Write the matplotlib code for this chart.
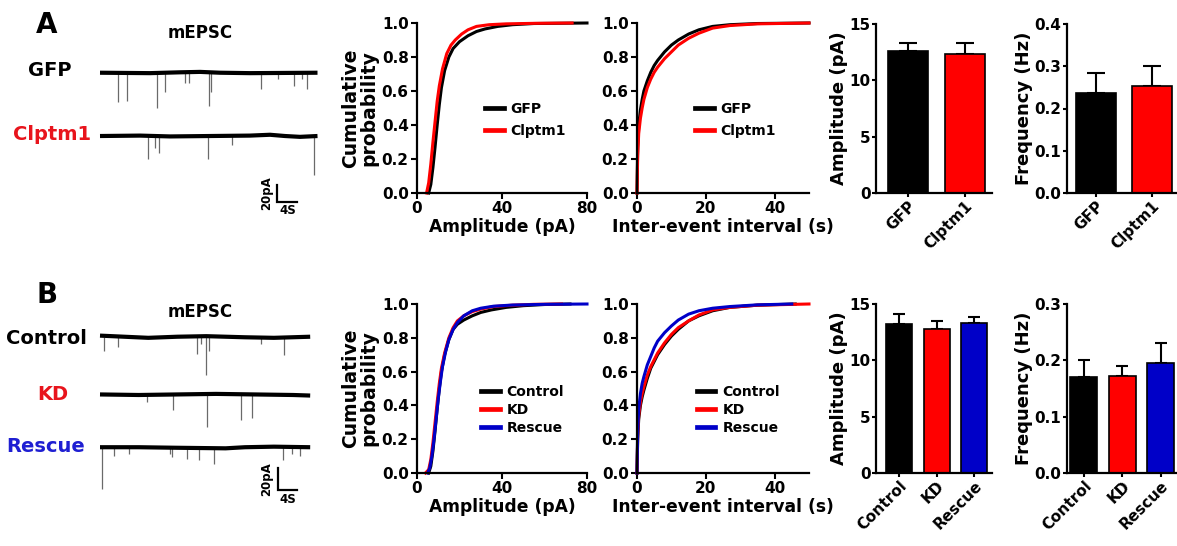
import matplotlib
matplotlib.use('Agg')
import matplotlib.pyplot as plt
from matplotlib.ticker import FormatStrFormatter

W, H = 1177, 546
plt.rcParams['font.family'] = ['DejaVu Sans']
plt.rcParams['font.weight'] = 'bold'
plt.rcParams['axes.labelweight'] = 'bold'
plt.rcParams['axes.linewidth'] = 1.5

BLACK, RED, BLUE = '#000000', '#ff0000', '#0000c8'
TXT_RED, TXT_BLUE = '#e8141c', '#1f1fd2'

# ---------------- data: example traces (time s, depth pA) ----------------
gfp_ev_t = [3.5, 5.5, 11.5, 13.0, 17.1, 17.8, 21.8, 22.3, 32.3, 35.6, 38.9, 40.5, 41.5]
gfp_ev_d = [35, 34, 42, 23, 12, 12, 40, 23, 19, 8, 16, 8, 20]
gfp_base_t = [0, 10, 16, 20, 24, 30, 43.5]
gfp_base_y = [0, -0.5, 0.5, 1, 0, -0.5, 0]
clp_ev_t = [9.7, 11.0, 11.8, 21.7, 26.5, 42.8]
clp_ev_d = [28, 14, 20, 28, 11, 47]
clp_base_t = [0, 8, 14, 22, 30, 34, 37, 40, 43.5]
clp_base_y = [0, 0.5, -0.5, 0, 0.5, 1.5, 0, -1, 0]

ctl_ev_t = [0.8, 3.7, 20.0, 21.0, 21.9, 22.6, 33.3, 38.1]
ctl_ev_d = [13, 9, 16, 7, 35, 13, 7, 17]
ctl_base_t = [0, 5, 10, 16, 22, 30, 36, 43.5]
ctl_base_y = [1, 0, -1, 0, 0.5, -0.5, -1, 0]
kd_ev_t = [9.8, 15.2, 22.2, 29.2, 31.5]
kd_ev_d = [6, 14, 29, 23, 21]
kd_base_t = [0, 8, 16, 24, 32, 40, 43.5]
kd_base_y = [0.5, 0, 0.5, 1, 0.5, 0, -0.5]
res_ev_t = [0.5, 2.8, 6.1, 14.5, 15.0, 18.1, 20.4, 23.5, 37.8, 39.7, 41.3]
res_ev_d = [38, 8, 6, 6, 9, 11, 12, 15, 11.5, 6, 8]
res_base_t = [0, 8, 16, 26, 30, 36, 43.5]
res_base_y = [0, 0, -0.5, -1, 0, 0.5, 0]

# ---------------- data: cumulative distributions ----------------
a_amp_gfp_x = [5.5, 6.5, 7.5, 8.5, 9.5, 10.5, 11.5, 13, 15, 17, 20, 24, 28, 32, 38, 45, 55, 80]
a_amp_gfp_p = [0, 0.05, 0.15, 0.27, 0.40, 0.52, 0.62, 0.72, 0.80, 0.85, 0.89, 0.925, 0.95, 0.965, 0.98, 0.99, 0.997, 1.0]
a_amp_clp_x = [4.5, 5.5, 6.5, 7.5, 8.5, 9.5, 10.5, 12, 14, 16, 18, 21, 24, 28, 34, 42, 55, 73]
a_amp_clp_p = [0, 0.06, 0.17, 0.30, 0.42, 0.54, 0.63, 0.73, 0.82, 0.87, 0.90, 0.935, 0.96, 0.98, 0.99, 0.995, 0.998, 1.0]

int_x = [0, 0.2, 0.5, 1, 1.5, 2, 3, 4, 5, 6, 8, 10, 12, 15, 18, 22, 27, 35]
a_int_gfp_x = int_x + [50]
a_int_gfp_p = [0, 0.27, 0.40, 0.49, 0.55, 0.60, 0.66, 0.71, 0.75, 0.78, 0.83, 0.87, 0.90, 0.935, 0.96, 0.98, 0.99, 0.997, 1.0]
a_int_clp_x = int_x + [50]
a_int_clp_p = [0, 0.22, 0.35, 0.44, 0.50, 0.55, 0.62, 0.67, 0.71, 0.74, 0.79, 0.83, 0.87, 0.91, 0.94, 0.97, 0.985, 0.995, 1.0]

b_amp_ctl_x = [5.5, 6.5, 7.5, 8.5, 9.5, 10.5, 11.5, 13, 15, 17, 19, 22, 26, 30, 35, 42, 50, 60, 72]
b_amp_ctl_p = [0, 0.04, 0.13, 0.25, 0.38, 0.50, 0.60, 0.70, 0.79, 0.85, 0.88, 0.905, 0.93, 0.95, 0.965, 0.98, 0.99, 0.997, 1.0]
b_amp_kd_x = [4, 5.5, 6.5, 7.5, 8.5, 9.5, 10.5, 11.5, 13, 15, 17, 19, 22, 26, 30, 36, 45, 55, 68]
b_amp_kd_p = [0, 0.02, 0.08, 0.18, 0.30, 0.42, 0.53, 0.62, 0.71, 0.80, 0.86, 0.90, 0.93, 0.955, 0.97, 0.985, 0.993, 0.998, 1.0]
b_amp_res_x = [5, 6, 7, 8, 9, 10, 11, 12, 13.5, 15, 17, 19, 22, 26, 30, 36, 45, 60, 80]
b_amp_res_p = [0, 0.03, 0.10, 0.20, 0.32, 0.44, 0.54, 0.63, 0.72, 0.79, 0.85, 0.89, 0.93, 0.96, 0.975, 0.987, 0.994, 0.998, 1.0]

b_int_ctl_x = int_x + [46]
b_int_ctl_p = [0, 0.20, 0.32, 0.40, 0.45, 0.49, 0.56, 0.62, 0.66, 0.70, 0.76, 0.81, 0.85, 0.90, 0.93, 0.96, 0.98, 0.993, 1.0]
b_int_kd_x = int_x + [50]
b_int_kd_p = [0, 0.22, 0.34, 0.42, 0.47, 0.51, 0.58, 0.63, 0.67, 0.71, 0.77, 0.82, 0.86, 0.90, 0.935, 0.965, 0.98, 0.993, 1.0]
b_int_res_x = int_x + [45]
b_int_res_p = [0, 0.25, 0.38, 0.47, 0.53, 0.57, 0.64, 0.69, 0.74, 0.78, 0.83, 0.87, 0.905, 0.94, 0.96, 0.975, 0.985, 0.995, 1.0]

# ---------------- data: bar charts ----------------
a_groups = ['GFP', 'Clptm1']
a_amp_mean = [12.6, 12.35]
a_amp_sem = [0.75, 1.0]
a_freq_mean = [0.236, 0.254]
a_freq_sem = [0.047, 0.047]

b_groups = ['Control', 'KD', 'Rescue']
b_amp_mean = [13.2, 12.76, 13.29]
b_amp_sem = [0.9, 0.77, 0.59]
b_freq_mean = [0.170, 0.173, 0.195]
b_freq_sem = [0.030, 0.017, 0.036]

# ---------------- helpers ----------------
fig = plt.figure(figsize=(W / 100, H / 100), dpi=100)


def add_ax(l, t, r, b):
    return fig.add_axes([l / W, 1 - b / H, (r - l) / W, (b - t) / H])


def ftext(px, py, s, **kw):
    fig.text(px / W, 1 - py / H, s, **kw)


def style(ax, length=4, pad=2):
    for s in ['top', 'right']:
        ax.spines[s].set_visible(False)
    for s in ['left', 'bottom']:
        ax.spines[s].set_linewidth(1.6)
    ax.tick_params(direction='out', length=length, width=1.5, labelsize=11, pad=pad)


def trace(ax, bt, by, off, ev_t, ev_d):
    ax.plot(bt, [v + off for v in by], color='k', lw=3.0, solid_capstyle='butt', zorder=3)
    ax.vlines(ev_t, [off] * len(ev_t), [off - d for d in ev_d], color='#6a6a6a', lw=0.9, zorder=2)


# ---------------- traces A ----------------
ta = add_ax(90, 40, 330, 215)
ta.set_xlim(-2, 46)
ta.set_ylim(-170.4, 39.2)
ta.axis('off')
trace(ta, gfp_base_t, gfp_base_y, 0, gfp_ev_t, gfp_ev_d)
trace(ta, clp_base_t, clp_base_y, -75.8, clp_ev_t, clp_ev_d)
ta.plot([35.5, 35.5, 39.5], [-134.5, -154.5, -154.5], color='k', lw=1.6, solid_joinstyle='miter')
ta.text(34.6, -144.5, '20pA', rotation=90, ha='right', va='center', fontsize=8.5)
ta.text(37.6, -157.5, '4S', ha='center', va='top', fontsize=8.5)

# ---------------- traces B ----------------
tb = add_ax(90, 300, 330, 500)
tb.set_xlim(-2.07, 47.6)
tb.set_ylim(-148.5, 33.4)
tb.axis('off')
trace(tb, ctl_base_t, ctl_base_y, 0, ctl_ev_t, ctl_ev_d)
trace(tb, kd_base_t, kd_base_y, -53, kd_ev_t, kd_ev_d)
trace(tb, res_base_t, res_base_y, -100.5, res_ev_t, res_ev_d)
tb.plot([36.8, 36.8, 40.8], [-119.4, -139.4, -139.4], color='k', lw=1.6, solid_joinstyle='miter')
tb.text(35.9, -129.4, '20pA', rotation=90, ha='right', va='center', fontsize=8.5)
tb.text(38.8, -142.5, '4S', ha='center', va='top', fontsize=8.5)

# labels
ftext(47, 25, 'A', fontsize=20, ha='center', va='center')
ftext(47, 295, 'B', fontsize=20, ha='center', va='center')
ftext(200, 33, 'mEPSC', fontsize=12, ha='center', va='center')
ftext(200, 312, 'mEPSC', fontsize=12, ha='center', va='center')
ftext(50, 71, 'GFP', fontsize=14, ha='center', va='center', color='k')
ftext(52, 135, 'Clptm1', fontsize=14, ha='center', va='center', color=TXT_RED)
ftext(46, 339, 'Control', fontsize=14, ha='center', va='center', color='k')
ftext(53, 395, 'KD', fontsize=14, ha='center', va='center', color=TXT_RED)
ftext(46, 446, 'Rescue', fontsize=14, ha='center', va='center', color=TXT_BLUE)


# ---------------- cumulative plots ----------------
def cum_axes(l, t, r, b, xmax, xticks, xlabel, ylab):
    ax = add_ax(l, t, r, b)
    style(ax)
    ax.set_xlim(0, xmax)
    ax.set_ylim(0, 1.0)
    ax.set_xticks(xticks)
    ax.set_yticks([0, 0.2, 0.4, 0.6, 0.8, 1.0])
    ax.yaxis.set_major_formatter(FormatStrFormatter('%.1f'))
    ax.set_xlabel(xlabel, fontsize=12.3, labelpad=1)
    if ylab:
        ax.set_ylabel('Cumulative\nprobability', fontsize=13.5, linespacing=0.95)
        ax.yaxis.set_label_coords(-0.23, 0.5)
    return ax


def legend(ax, x, y, spacing):
    lg = ax.legend(loc='center left', bbox_to_anchor=(x, y), frameon=False, fontsize=10,
                   handlelength=1.35, handletextpad=0.5, labelspacing=spacing,
                   borderpad=0, borderaxespad=0)
    for h in lg.get_lines():
        h.set_linewidth(3.4)


lw = 2.2
ax = cum_axes(417, 23, 587, 193, 80, [0, 40, 80], 'Amplitude (pA)', True)
ax.plot(a_amp_gfp_x, a_amp_gfp_p, color=BLACK, lw=lw, label='GFP', clip_on=False)
ax.plot(a_amp_clp_x, a_amp_clp_p, color=RED, lw=lw, label='Clptm1', clip_on=False)
legend(ax, 0.40, 0.43, 0.55)

ax = cum_axes(637, 23, 809, 193, 50, [0, 20, 40], 'Inter-event interval (s)', False)
ax.plot(a_int_gfp_x, a_int_gfp_p, color=BLACK, lw=lw, label='GFP', clip_on=False)
ax.plot(a_int_clp_x, a_int_clp_p, color=RED, lw=lw, label='Clptm1', clip_on=False)
legend(ax, 0.337, 0.43, 0.55)

ax = cum_axes(417, 304, 587, 473, 80, [0, 40, 80], 'Amplitude (pA)', True)
ax.plot(b_amp_ctl_x, b_amp_ctl_p, color=BLACK, lw=lw, label='Control', clip_on=False)
ax.plot(b_amp_kd_x, b_amp_kd_p, color=RED, lw=lw, label='KD', clip_on=False)
ax.plot(b_amp_res_x, b_amp_res_p, color=BLUE, lw=lw, label='Rescue', clip_on=False)
legend(ax, 0.375, 0.373, 0.28)

ax = cum_axes(637, 304, 809, 473, 50, [0, 20, 40], 'Inter-event interval (s)', False)
ax.plot(b_int_ctl_x, b_int_ctl_p, color=BLACK, lw=lw, label='Control', clip_on=False)
ax.plot(b_int_kd_x, b_int_kd_p, color=RED, lw=lw, label='KD', clip_on=False)
ax.plot(b_int_res_x, b_int_res_p, color=BLUE, lw=lw, label='Rescue', clip_on=False)
legend(ax, 0.347, 0.373, 0.28)


# ---------------- bar charts ----------------
def bar_axes(l, t, r, b, xlim, groups, means, sems, colors, ymax, yticks, fmt, ylabel, labx, cap):
    ax = add_ax(l, t, r, b)
    style(ax, length=3, pad=1)
    x = list(range(len(groups)))
    ax.bar(x, means, width=0.7, color=colors, edgecolor='k', linewidth=1.2, zorder=2)
    ax.errorbar(x, means, yerr=[[0] * len(sems), sems], fmt='none', ecolor='k',
                elinewidth=1.5, capsize=cap, capthick=1.5, zorder=1)
    ax.set_xlim(*xlim)
    ax.set_ylim(0, ymax)
    ax.set_yticks(yticks)
    ax.yaxis.set_major_formatter(FormatStrFormatter(fmt))
    ax.set_xticks(x)
    ax.set_xticklabels(groups, rotation=45, ha='right', rotation_mode='anchor', fontsize=11)
    ax.set_ylabel(ylabel, fontsize=13)
    ax.yaxis.set_label_coords(labx, 0.5)
    return ax


bar_axes(876, 24, 992, 193, (-0.57, 1.48), a_groups, a_amp_mean, a_amp_sem, [BLACK, RED],
         15, [0, 5, 10, 15], '%d', 'Amplitude (pA)', -0.24, 6.5)
bar_axes(1067, 24, 1177, 193, (-0.51, 1.44), a_groups, a_freq_mean, a_freq_sem, [BLACK, RED],
         0.4, [0, 0.1, 0.2, 0.3, 0.4], '%.1f', 'Frequency (Hz)', -0.31, 6.5)
bar_axes(876, 304, 992, 473, (-0.62, 2.47), b_groups, b_amp_mean, b_amp_sem, [BLACK, RED, BLUE],
         15, [0, 5, 10, 15], '%d', 'Amplitude (pA)', -0.24, 4.2)
bar_axes(1067, 304, 1177, 473, (-0.44, 2.42), b_groups, b_freq_mean, b_freq_sem, [BLACK, RED, BLUE],
         0.3, [0, 0.1, 0.2, 0.3], '%.1f', 'Frequency (Hz)', -0.31, 4.2)

fig.savefig('out.png', dpi=100)
